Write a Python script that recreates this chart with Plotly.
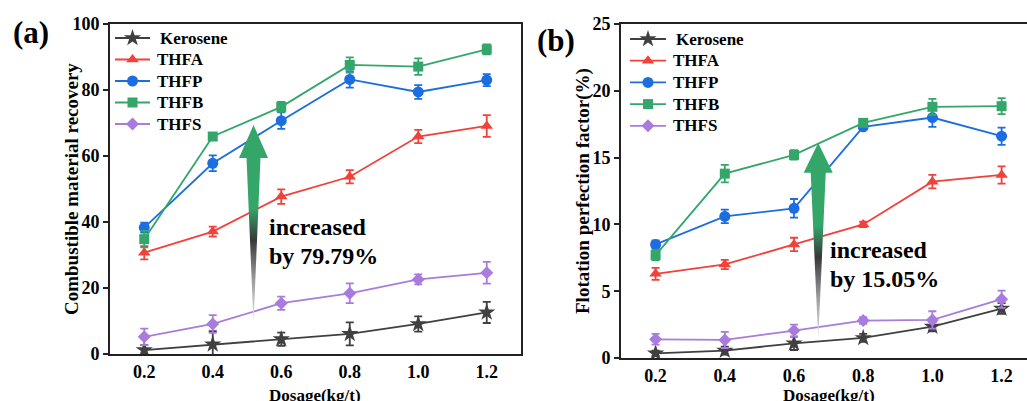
import plotly.graph_objects as go

# ---------------- data ----------------
dosage = [0.2, 0.4, 0.6, 0.8, 1.0, 1.2]
series_names = ["Kerosene", "THFA", "THFP", "THFB", "THFS"]

# (a) Combustible material recovery
rec_kerosene = [1.2, 2.9, 4.5, 6.1, 9.1, 12.6]
rec_thfa = [30.7, 37.1, 47.7, 53.7, 65.9, 69.1]
rec_thfp = [38.3, 57.8, 70.7, 83.2, 79.4, 83.0]
rec_thfb = [34.8, 65.9, 74.9, 87.6, 87.1, 92.3]
rec_thfs = [5.2, 9.1, 15.4, 18.4, 22.6, 24.6]

rec_err_kerosene = [1.5, 4.0, 2.0, 3.5, 2.3, 3.2]
rec_err_thfa = [2.0, 1.5, 2.2, 2.0, 2.0, 3.3]
rec_err_thfp = [1.5, 2.4, 2.5, 2.5, 2.1, 1.8]
rec_err_thfb = [2.5, 1.0, 1.5, 2.3, 2.5, 1.5]
rec_err_thfs = [2.5, 2.7, 2.0, 3.0, 1.5, 3.3]

# (b) Flotation perfection factor (%)
fpf_kerosene = [0.35, 0.55, 1.1, 1.5, 2.35, 3.7]
fpf_thfa = [6.3, 7.0, 8.5, 10.0, 13.2, 13.7]
fpf_thfp = [8.5, 10.6, 11.2, 17.3, 18.0, 16.6]
fpf_thfb = [7.7, 13.8, 15.2, 17.6, 18.8, 18.85]
fpf_thfs = [1.4, 1.35, 2.05, 2.8, 2.85, 4.4]

fpf_err_kerosene = [0.2, 0.3, 0.5, 0.3, 0.35, 0.4]
fpf_err_thfa = [0.45, 0.35, 0.5, 0.2, 0.5, 0.65]
fpf_err_thfp = [0.3, 0.5, 0.7, 0.2, 0.7, 0.65]
fpf_err_thfb = [0.4, 0.66, 0.35, 0.2, 0.6, 0.6]
fpf_err_thfs = [0.4, 0.6, 0.45, 0.25, 0.65, 0.65]

x_tick_vals = [0.2, 0.4, 0.6, 0.8, 1.0, 1.2]
x_tick_text = ["0.2", "0.4", "0.6", "0.8", "1.0", "1.2"]

# ---------------- styles ----------------
W, H = 1027, 401
FONT = "Liberation Serif"
colors = {"Kerosene": "#404040", "THFA": "#F0413B", "THFP": "#1C6EE0",
          "THFB": "#34A66A", "THFS": "#A97BDD"}
symbols = {"Kerosene": "star", "THFA": "triangle-up", "THFP": "circle",
           "THFB": "square", "THFS": "diamond"}
msize = {"Kerosene": 13, "THFA": 11, "THFP": 11, "THFB": 10, "THFS": 10}


def px(x):
    return x / W


def py(y):
    return 1 - y / H


fig = go.Figure()

panels = [
    ("x", "y",
     [rec_kerosene, rec_thfa, rec_thfp, rec_thfb, rec_thfs],
     [rec_err_kerosene, rec_err_thfa, rec_err_thfp, rec_err_thfb, rec_err_thfs]),
    ("x2", "y2",
     [fpf_kerosene, fpf_thfa, fpf_thfp, fpf_thfb, fpf_thfs],
     [fpf_err_kerosene, fpf_err_thfa, fpf_err_thfp, fpf_err_thfb, fpf_err_thfs]),
]

for xa, ya, vals, errs in panels:
    for name, v, e in zip(series_names, vals, errs):
        c = colors[name]
        fig.add_trace(go.Scatter(
            x=dosage, y=v, name=name, mode="lines+markers",
            xaxis=xa, yaxis=ya, showlegend=False,
            line=dict(color=c, width=1.8),
            marker=dict(symbol=symbols[name], size=msize[name], color=c,
                        line=dict(width=0)),
            error_y=dict(type="data", array=e, visible=True, color=c,
                         thickness=1.8, width=4),
        ))

# gradient arrows (decorations)
arrow_scale = [[0.0, "#e8e8e8"], [0.22, "#9a9a9a"], [0.42, "#383838"],
               [0.58, "#34A66A"], [1.0, "#34A66A"]]
arrows = [
    # xa, ya, x_center, y_tail, y_headbase, y_tip, head_half, shaft_half
    ("x", "y", 0.519, 9.4, 59.4, 69.4, 0.0423, 0.0204),
    ("x2", "y2", 0.670, 1.35, 13.86, 16.1, 0.042, 0.0217),
]
for xa, ya, xc, yt, yb, ytip, hh, sh in arrows:
    ax = [xc, xc - sh, xc - hh, xc, xc + hh, xc + sh, xc]
    ay = [yt, yb, yb, ytip, yb, yb, yt]
    fig.add_trace(go.Scatter(
        x=ax, y=ay, xaxis=xa, yaxis=ya, mode="lines", fill="toself",
        line=dict(width=0, color="rgba(0,0,0,0)"),
        fillgradient=dict(type="vertical", colorscale=arrow_scale,
                          start=yt, stop=ytip),
        showlegend=False, hoverinfo="skip"))

# hand-made legends on a pixel overlay (x3/y3)
legend_layout = [
    # line start, line end, text x, first row y, row step
    (115, 150, 155, 38, 21.5),
    (630, 666, 671, 39, 21.7),
]
for x0, x1, tx, y0, step in legend_layout:
    for i, name in enumerate(series_names):
        c = colors[name]
        yy = y0 + step * i
        fig.add_trace(go.Scatter(
            x=[x0, x1], y=[yy, yy], xaxis="x3", yaxis="y3", mode="lines",
            line=dict(color=c, width=1.8), showlegend=False, hoverinfo="skip"))
        fig.add_trace(go.Scatter(
            x=[(x0 + x1) / 2], y=[yy], xaxis="x3", yaxis="y3", mode="markers",
            marker=dict(symbol=symbols[name], size=msize[name], color=c,
                        line=dict(width=0)),
            showlegend=False, hoverinfo="skip"))
        fig.add_annotation(
            text=name, x=tx + (3 if name == "Kerosene" else 0), y=yy,
            xref="x3", yref="y3", xanchor="left", yanchor="middle",
            showarrow=False,
            font=dict(family=FONT, size=17, color="black", weight="bold"))

tickfont = dict(family=FONT, size=18, color="black", weight="bold")
axis_common = dict(showgrid=False, zeroline=False, showline=True,
                   linecolor="#222", linewidth=2, tickfont=tickfont)

fig.update_layout(
    width=W, height=H,
    margin=dict(l=0, r=0, t=0, b=0, pad=0, autoexpand=False),
    paper_bgcolor="white", plot_bgcolor="rgba(0,0,0,0)", showlegend=False,
    xaxis=dict(domain=[px(110), px(521)], range=[0.1, 1.3], anchor="y",
               tickvals=x_tick_vals, ticktext=x_tick_text, ticks="",
               mirror=True, **axis_common),
    yaxis=dict(domain=[py(354), py(24)], range=[0, 100], anchor="x",
               dtick=20, ticks="outside", ticklen=5, tickwidth=2,
               tickcolor="#222", mirror=True, **axis_common),
    xaxis2=dict(domain=[px(621), 1.0], range=[0.1, 0.1 + (W - 621) / 346],
                anchor="y2", tickvals=x_tick_vals, ticktext=x_tick_text,
                ticks="", mirror=True, **axis_common),
    yaxis2=dict(domain=[py(358), py(24)], range=[0, 25], anchor="x2",
                dtick=5, ticks="outside", ticklen=5, tickwidth=2,
                tickcolor="#222", mirror=False, **axis_common),
    xaxis3=dict(domain=[0, 1], range=[0, W], anchor="y3", visible=False,
                fixedrange=True),
    yaxis3=dict(domain=[0, 1], range=[H, 0], anchor="x3", visible=False,
                fixedrange=True),
)


def txt(text, x, y, size, xanchor="left", angle=0):
    fig.add_annotation(text=text, x=px(x), y=py(y), xref="paper", yref="paper",
                       xanchor=xanchor, yanchor="middle", showarrow=False,
                       textangle=angle,
                       font=dict(family=FONT, size=size, color="black",
                                 weight="bold"))


txt("(a)", 11, 32, 31)
txt("(b)", 535, 41, 31)
txt("Combustible material recovery", 71, 189, 19, xanchor="center", angle=-90)
txt("Flotation perfection factor(%)", 583, 191, 19, xanchor="center", angle=-90)
txt("Dosage(kg/t)", 315, 395, 17, xanchor="center")
txt("Dosage(kg/t)", 829, 395, 17, xanchor="center")
txt("increased", 267, 227, 24)
txt("by 79.79%", 267, 256, 24)
txt("increased", 828, 250, 24)
txt("by 15.05%", 828, 279, 24)

fig.write_html(
    "out.html",
    config={"displayModeBar": False},
    post_script="document.body.style.margin='0';document.body.style.overflow='hidden';",
)
